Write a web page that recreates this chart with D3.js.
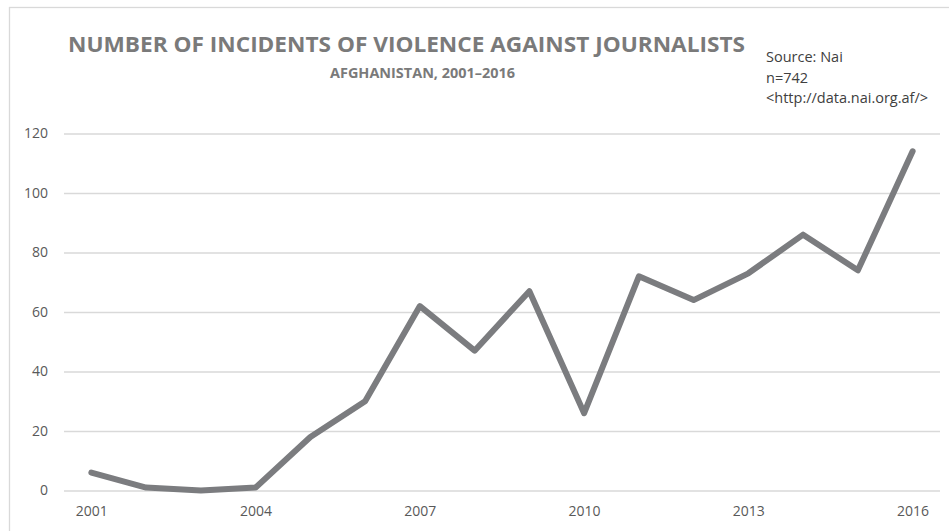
<!DOCTYPE html>
<html>
<head>
<meta charset="utf-8">
<script src="https://cdn.jsdelivr.net/npm/d3@7"></script>
<style>
  html, body { margin: 0; padding: 0; background: #fff; }
  svg { display: block; }
</style>
</head>
<body>
<svg id="chart" width="949" height="531"></svg>
<script>
// Incidents of violence against journalists in Afghanistan, by year
const years = ["2001","2002","2003","2004","2005","2006","2007","2008",
               "2009","2010","2011","2012","2013","2014","2015","2016"];
const incidents = [6, 1, 0, 1, 18, 30, 62, 47, 67, 26, 72, 64, 73, 86, 74, 114];
const yTicks = [0, 20, 40, 60, 80, 100, 120];
const xTickLabels = ["2001","2004","2007","2010","2013","2016"];
const titleText = "NUMBER OF INCIDENTS OF VIOLENCE AGAINST JOURNALISTS";
const subtitleText = "AFGHANISTAN, 2001\u20132016";
const sourceLines = ["Source: Nai", "n=742", "<http://data.nai.org.af/>"];

const svg = d3.select("#chart");
const font = "'Open Sans', 'DejaVu Sans', sans-serif";

// chart area frame
svg.append("rect")
  .attr("x", 9.5).attr("y", 7.5)
  .attr("width", 960).attr("height", 560)
  .attr("fill", "none")
  .attr("stroke", "#d9d9d9")
  .attr("stroke-width", 1.3);

const plot = { left: 64, right: 940, top: 133.5, bottom: 490.5 };

const x = d3.scalePoint()
  .domain(years)
  .range([plot.left, plot.right])
  .padding(0.5);

const y = d3.scaleLinear()
  .domain([0, 120])
  .range([plot.bottom, plot.top]);

// horizontal gridlines + value labels
const yAxis = d3.axisLeft(y)
  .tickValues(yTicks)
  .tickSize(-(plot.right - plot.left))
  .tickPadding(16);

const gy = svg.append("g")
  .attr("transform", `translate(${plot.left},0)`)
  .call(yAxis);
gy.select(".domain").remove();
gy.selectAll(".tick line")
  .attr("stroke", "#d9d9d9")
  .attr("stroke-width", 1.3);
gy.selectAll(".tick text")
  .attr("fill", "#595959")
  .style("font-family", font)
  .style("font-size", "14px");

// category labels (every third year)
const xAxis = d3.axisBottom(x)
  .tickValues(xTickLabels)
  .tickSize(0)
  .tickPadding(16);

const gx = svg.append("g")
  .attr("transform", `translate(0,${plot.bottom})`)
  .call(xAxis);
gx.select(".domain").remove();
gx.selectAll(".tick text")
  .attr("fill", "#595959")
  .style("font-family", font)
  .style("font-size", "14px");

// the series line
const line = d3.line()
  .x((d, i) => x(years[i]))
  .y(d => y(d));

svg.append("path")
  .datum(incidents)
  .attr("d", line)
  .attr("fill", "none")
  .attr("stroke", "#7b7c7f")
  .attr("stroke-width", 6)
  .attr("stroke-linejoin", "round")
  .attr("stroke-linecap", "round");

// titles
svg.append("text")
  .attr("x", 68).attr("y", 52)
  .attr("textLength", 677)
  .attr("lengthAdjust", "spacingAndGlyphs")
  .attr("fill", "#7a7a7a")
  .style("font-family", font)
  .style("font-weight", "700")
  .style("font-size", "21px")
  .text(titleText);

svg.append("text")
  .attr("x", 330).attr("y", 78)
  .attr("textLength", 185)
  .attr("lengthAdjust", "spacingAndGlyphs")
  .attr("fill", "#7a7a7a")
  .style("font-family", font)
  .style("font-weight", "700")
  .style("font-size", "13.5px")
  .text(subtitleText);

// source note
svg.append("g")
  .selectAll("text")
  .data(sourceLines)
  .join("text")
  .attr("x", 766)
  .attr("y", (d, i) => 62 + i * 20.5)
  .attr("fill", "#404040")
  .style("font-family", font)
  .style("font-size", "14.5px")
  .text(d => d);
</script>
</body>
</html>
